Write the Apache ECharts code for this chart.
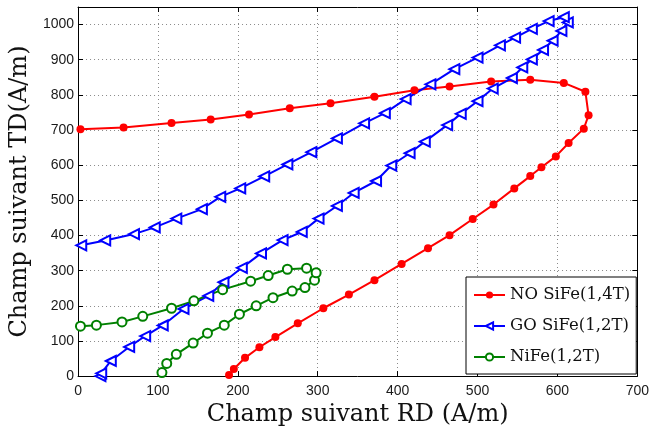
<!DOCTYPE html>
<html>
<head>
<meta charset="utf-8">
<script src="https://cdn.jsdelivr.net/npm/echarts@6/dist/echarts.min.js"></script>
<style>
html,body{margin:0;padding:0;background:#fff;}
#chart{width:652px;height:432px;}
</style>
</head>
<body>
<div id="chart"></div>
<script>
// NO SiFe(1,4T)
const noX = [3, 57, 117, 166, 214, 265, 316, 371, 421, 465, 517, 566, 608, 635, 639, 633, 614, 598, 580, 566, 546, 520, 494, 465, 438, 405, 371, 339, 307, 275, 247, 227, 209, 195, 189];
const noY = [702, 707, 720, 730, 744, 762, 776, 795, 813, 824, 838, 843, 834, 809, 742, 704, 663, 625, 594, 569, 534, 488, 447, 401, 364, 319, 273, 232, 193, 150, 111, 82, 52, 20, 3];
// GO SiFe(1,2T)
const goX = [28, 29, 41, 64, 84, 106, 132, 163, 182, 205, 229, 256, 280, 301, 324, 345, 373, 392, 415, 434, 462, 479, 500, 519, 543, 556, 568, 582, 594, 605, 613, 608, 589, 568, 547, 528, 500, 471, 441, 410, 384, 358, 324, 292, 262, 233, 203, 178, 155, 123, 96, 70, 34, 4];
const goY = [0, 8, 43, 83, 114, 144, 191, 228, 267, 308, 349, 387, 410, 448, 484, 521, 555, 599, 634, 667, 714, 746, 782, 818, 848, 878, 901, 928, 954, 982, 1006, 1021, 1010, 988, 963, 941, 906, 873, 830, 788, 748, 719, 676, 637, 602, 568, 534, 510, 475, 448, 423, 404, 386, 372];
// NiFe(1,2T)
const niX = [105, 111, 123, 144, 162, 183, 202, 223, 244, 268, 284, 296, 298, 286, 262, 238, 216, 181, 145, 117, 81, 55, 23, 3];
const niY = [10, 36, 62, 94, 122, 145, 176, 200, 223, 242, 252, 273, 294, 307, 304, 286, 270, 246, 214, 193, 170, 154, 145, 142];

const seriesNames = ['NO SiFe(1,4T)', 'GO SiFe(1,2T)', 'NiFe(1,2T)'];
const xTitle = 'Champ suivant RD (A/m)';
const yTitle = 'Champ suivant TD(A/m)';

function zip(xs, ys) { return xs.map((x, i) => [x, ys[i]]); }

const chart = echarts.init(document.getElementById('chart'), null, {renderer: 'canvas'});

const labelStyle = {fontFamily: 'Liberation Sans', fontSize: 14, color: '#1a1a1a', formatter: v => String(v)};
const split = {show: true, lineStyle: {color: '#8a8a8a', type: [1, 3], width: 1}};

const option = {
  animation: false,
  backgroundColor: '#fff',
  grid: {left: 78, right: 9, top: 7, bottom: 48, containLabel: false},
  xAxis: [{
    type: 'value', min: 0, max: 700, interval: 100, position: 'bottom',
    name: xTitle, nameLocation: 'middle', nameGap: 25,
    nameTextStyle: {fontFamily: 'DejaVu Serif', fontSize: 24, color: '#111', verticalAlign: 'top'},
    axisLine: {show: true, onZero: false, lineStyle: {color: '#000', width: 1}},
    axisTick: {show: true, inside: true, length: 5, lineStyle: {color: '#000'}},
    axisLabel: Object.assign({margin: 8}, labelStyle),
    splitLine: split
  }, {
    type: 'value', min: 0, max: 700, interval: 100, position: 'top',
    axisLine: {show: true, onZero: false, lineStyle: {color: '#000', width: 1}},
    axisTick: {show: true, inside: true, length: 5, lineStyle: {color: '#000'}},
    axisLabel: {show: false}, splitLine: {show: false}
  }],
  yAxis: [{
    type: 'value', min: 0, max: 1050, interval: 100, position: 'left',
    name: yTitle, nameLocation: 'middle', nameGap: 45,
    nameTextStyle: {fontFamily: 'DejaVu Serif', fontSize: 24, color: '#111'},
    axisLine: {show: true, onZero: false, lineStyle: {color: '#000', width: 1}},
    axisTick: {show: true, inside: true, length: 5, lineStyle: {color: '#000'}},
    axisLabel: Object.assign({margin: 4, showMaxLabel: false}, labelStyle),
    splitLine: split
  }, {
    type: 'value', min: 0, max: 1050, interval: 100, position: 'right',
    axisLine: {show: true, onZero: false, lineStyle: {color: '#000', width: 1}},
    axisTick: {show: true, inside: true, length: 5, lineStyle: {color: '#000'}},
    axisLabel: {show: false}, splitLine: {show: false}
  }],
  legend: {
    orient: 'vertical', left: 466, top: 277,
    padding: [8, 6, 7, 7], itemGap: 11, itemWidth: 31, itemHeight: 9,
    backgroundColor: '#fff', borderColor: '#000', borderWidth: 1,
    textStyle: {fontFamily: 'DejaVu Serif', fontSize: 16.5, color: '#111', lineHeight: 20},
    data: seriesNames
  },
  series: [{
    name: seriesNames[0], type: 'line', data: zip(noX, noY),
    symbol: 'circle', symbolSize: 8,
    lineStyle: {color: '#ff0000', width: 2}, itemStyle: {color: '#ff0000'}
  }, {
    name: seriesNames[1], type: 'line', data: zip(goX, goY),
    symbol: 'emptyTriangle', symbolSize: 10, symbolRotate: 90,
    lineStyle: {color: '#0000ff', width: 2}, itemStyle: {color: '#0000ff', borderWidth: 2}
  }, {
    name: seriesNames[2], type: 'line', data: zip(niX, niY),
    symbol: 'emptyCircle', symbolSize: 9,
    lineStyle: {color: '#008000', width: 2}, itemStyle: {color: '#008000', borderWidth: 1.8}
  }]
};
chart.setOption(option);
</script>
</body>
</html>
